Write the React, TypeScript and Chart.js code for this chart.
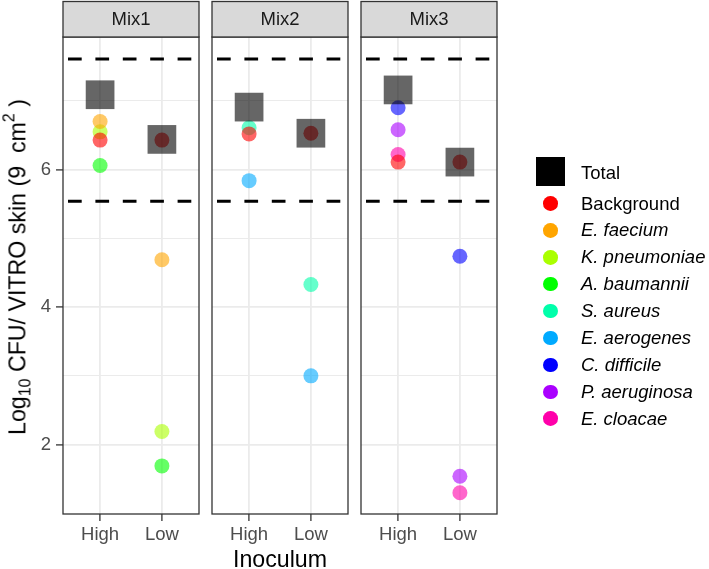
import React, { useEffect, useRef } from 'react';
import { Chart, registerables } from 'chart.js';

Chart.register(...registerables);

// ---------- data ----------
const mixes = ['Mix1', 'Mix2', 'Mix3'];
const inoculum = ['High', 'Low'];
// value order: [Mix1 High, Mix1 Low, Mix2 High, Mix2 Low, Mix3 High, Mix3 Low]
const total = [7.09, 6.44, 6.91, 6.53, 7.16, 6.11];
const background = [6.43, 6.43, 6.52, 6.53, 6.11, 6.11];
const eFaecium = [6.7, 4.69, null, null, null, null];
const kPneumoniae = [6.55, 2.19, null, null, null, null];
const aBaumannii = [6.06, 1.69, null, null, null, null];
const sAureus = [null, null, 6.61, 4.33, null, null];
const eAerogenes = [null, null, 5.84, 3.0, null, null];
const cDifficile = [null, null, null, null, 6.9, 4.74];
const pAeruginosa = [null, null, null, null, 6.58, 1.54];
const eCloacae = [null, null, null, null, 6.22, 1.3];

const speciesNames = ['Background', 'E. faecium', 'K. pneumoniae', 'A. baumannii', 'S. aureus', 'E. aerogenes', 'C. difficile', 'P. aeruginosa', 'E. cloacae'];
const speciesValues = [background, eFaecium, kPneumoniae, aBaumannii, sAureus, eAerogenes, cDifficile, pAeruginosa, eCloacae];
const speciesColors = ['255,0,0', '255,165,0', '170,255,0', '0,255,0', '0,255,170', '0,170,255', '0,0,255', '170,0,255', '255,0,170'];

const limitLines = [7.61, 5.54];
const yMajorTicks = [2, 4, 6];
const yGridValues = [2, 3, 4, 5, 6, 7];
const yMin = 0.99;
const yMax = 7.93;
const xMin = 0.4;
const xMax = 2.6;

// ---------- layout ----------
const W = 709;
const H = 569;
const PANEL_LEFT = [63, 212, 361];
const PANEL_W = 136;
const PANEL_TOP = 37;
const PANEL_BOTTOM = 514;
const FONT = '"Liberation Sans", Arial, sans-serif';

const framePlugin = {
  id: 'frame',
  afterDraw(chart: any) {
    const { ctx, chartArea } = chart;
    const mix = chart.options.plugins.frame.label;
    ctx.save();
    ctx.strokeStyle = '#333333';
    ctx.lineWidth = 1.3;
    ctx.strokeRect(chartArea.left, chartArea.top, chartArea.right - chartArea.left, chartArea.bottom - chartArea.top);
    const sTop = 1.5;
    ctx.fillStyle = '#D9D9D9';
    ctx.fillRect(chartArea.left, sTop, chartArea.right - chartArea.left, chartArea.top - sTop);
    ctx.strokeRect(chartArea.left, sTop, chartArea.right - chartArea.left, chartArea.top - sTop);
    ctx.fillStyle = '#1A1A1A';
    ctx.font = `18.5px ${FONT}`;
    ctx.textAlign = 'center';
    ctx.textBaseline = 'middle';
    ctx.fillText(mix, (chartArea.left + chartArea.right) / 2, (sTop + chartArea.top) / 2 + 1);
    ctx.restore();
  },
};

function pick(arr: (number | null)[], panel: number) {
  return inoculum
    .map((_, j) => ({ x: j + 1, y: arr[panel * 2 + j] }))
    .filter((p) => p.y !== null && p.y !== undefined);
}

function buildChart(canvas: HTMLCanvasElement, panel: number) {
  const left = PANEL_LEFT[panel];
  const right = left + PANEL_W;
  const first = panel === 0;
  const middle = panel === 1;

  const datasets: any[] = [];
  datasets.push({
    type: 'scatter',
    label: 'Total',
    data: pick(total, panel),
    pointStyle: 'rect',
    pointRadius: 20.3,
    pointHoverRadius: 20.3,
    backgroundColor: 'rgba(0,0,0,0.6)',
    borderWidth: 0,
    order: 0,
  });
  speciesNames.forEach((name, i) => {
    datasets.push({
      type: 'scatter',
      label: name,
      data: pick(speciesValues[i], panel),
      pointStyle: 'circle',
      pointRadius: 7.5,
      pointHoverRadius: 7.5,
      backgroundColor: `rgba(${speciesColors[i]},0.6)`,
      borderWidth: 0,
      order: i + 1,
    });
  });
  limitLines.forEach((v, i) => {
    datasets.push({
      type: 'line',
      label: 'limit' + i,
      data: [
        { x: xMin, y: v },
        { x: xMax, y: v },
      ],
      borderColor: '#000000',
      borderWidth: 3,
      borderDash: [13.7, 13.7],
      borderDashOffset: 22.4,
      pointRadius: 0,
      fill: false,
      order: 100 + i,
    });
  });

  return new Chart(canvas, {
    type: 'scatter',
    data: { datasets },
    options: {
      animation: false,
      responsive: false,
      events: [],
      layout: {
        padding: { left: first ? 0 : left, right: W - right, top: PANEL_TOP, bottom: 0 },
      },
      plugins: {
        legend: { display: false },
        tooltip: { enabled: false },
        frame: { label: mixes[panel] },
      } as any,
      scales: {
        x: {
          type: 'linear',
          min: xMin,
          max: xMax,
          afterBuildTicks: (s: any) => {
            s.ticks = inoculum.map((_, i) => ({ value: i + 1 }));
          },
          afterFit: (s: any) => {
            s.height = H - PANEL_BOTTOM;
          },
          border: { display: false },
          grid: {
            color: '#EBEBEB',
            lineWidth: 1.8,
            tickLength: 7,
            tickColor: '#333333',
            tickWidth: 1.3,
          },
          ticks: {
            autoSkip: false,
            maxRotation: 0,
            padding: 3,
            color: '#4D4D4D',
            font: { family: FONT, size: 18.5 },
            callback: (v: any) => inoculum[Math.round(v) - 1] ?? '',
          },
          title: {
            display: middle,
            text: 'Inoculum',
            color: '#000000',
            padding: { top: 0, bottom: -6 },
            font: { family: FONT, size: 23.2 },
          },
        },
        y: {
          type: 'linear',
          min: yMin,
          max: yMax,
          afterBuildTicks: (s: any) => {
            s.ticks = yGridValues.map((v) => ({ value: v }));
          },
          afterFit: (s: any) => {
            s.width = first ? left : 0;
          },
          border: { display: false },
          grid: {
            color: '#EBEBEB',
            lineWidth: (c: any) => (c.tick && yMajorTicks.includes(c.tick.value) ? 1.8 : 1),
            drawTicks: first,
            tickLength: first ? 7 : 0,
            tickWidth: 1.3,
            tickColor: (c: any) => (c.tick && yMajorTicks.includes(c.tick.value) ? '#333333' : 'rgba(0,0,0,0)'),
          },
          ticks: {
            display: first,
            padding: 5,
            color: '#4D4D4D',
            font: { family: FONT, size: 18.5 },
            callback: (v: any) => (yMajorTicks.includes(v) ? String(v) : ''),
          },
        },
      },
    } as any,
    plugins: [framePlugin],
  });
}

const legendItems = speciesNames.map((name, i) => ({ name, color: speciesColors[i], italic: i > 0 }));

export default function App() {
  const refs = [useRef<HTMLCanvasElement>(null), useRef<HTMLCanvasElement>(null), useRef<HTMLCanvasElement>(null)];

  useEffect(() => {
    document.body.style.margin = '0';
    document.body.style.background = '#ffffff';
    const charts = refs.map((r, i) => buildChart(r.current as HTMLCanvasElement, i));
    return () => charts.forEach((c) => c.destroy());
  }, []);

  const textStyle: React.CSSProperties = {
    position: 'absolute',
    fontFamily: FONT,
    fontSize: '18.5px',
    color: '#000000',
    whiteSpace: 'nowrap',
    lineHeight: '1',
    transform: 'translateY(-50%)',
  };

  return (
    <div style={{ position: 'relative', width: W, height: H, background: '#ffffff', overflow: 'hidden' }}>
      {refs.map((r, i) => (
        <canvas key={i} ref={r} width={W} height={H} style={{ position: 'absolute', left: 0, top: 0, width: W, height: H }} />
      ))}
      {/* y axis title */}
      <div
        style={{
          position: 'absolute',
          left: 18,
          top: 267,
          transform: 'translate(-50%, -50%) rotate(-90deg)',
          fontFamily: FONT,
          fontSize: '23.2px',
          whiteSpace: 'nowrap',
          color: '#000000',
          lineHeight: '1',
        }}
      >
        Log<sub style={{ fontSize: '16px', verticalAlign: '-0.3em', lineHeight: 0 }}>10</sub> CFU/ VITRO skin (9&nbsp;&nbsp;cm
        <sup style={{ fontSize: '16px', verticalAlign: '0.7em', lineHeight: 0 }}>2</sup> )
      </div>
      {/* legend */}
      <div style={{ position: 'absolute', left: 536, top: 157, width: 29, height: 29, background: '#000000' }} />
      <div style={{ ...textStyle, left: 581, top: 173 }}>Total</div>
      {legendItems.map((it, i) => {
        const cy = 203.5 + i * 26.9;
        return (
          <React.Fragment key={it.name}>
            <div
              style={{
                position: 'absolute',
                left: 550.5 - 7.3,
                top: cy - 7.3,
                width: 14.6,
                height: 14.6,
                borderRadius: '50%',
                background: `rgb(${it.color})`,
              }}
            />
            <div style={{ ...textStyle, left: 581, top: cy, fontStyle: it.italic ? 'italic' : 'normal' }}>{it.name}</div>
          </React.Fragment>
        );
      })}
    </div>
  );
}
